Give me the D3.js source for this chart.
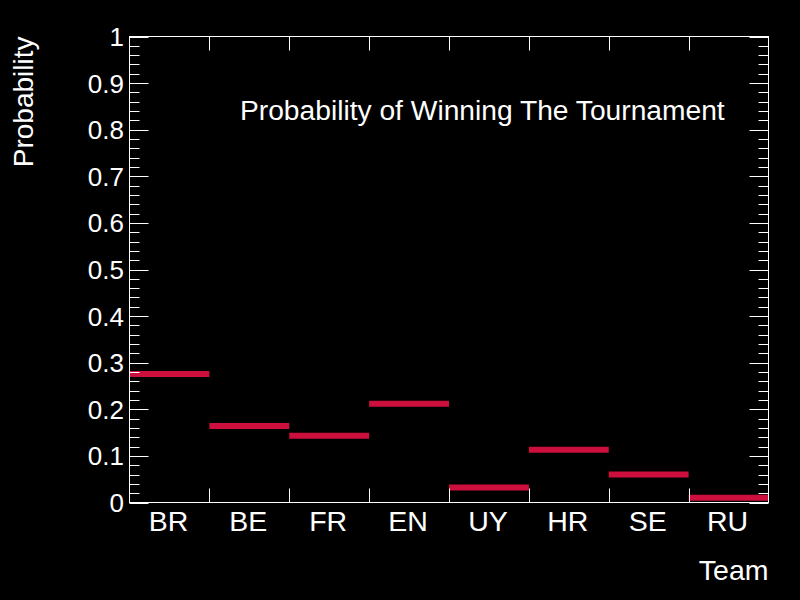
<!DOCTYPE html>
<html>
<head>
<meta charset="utf-8">
<script src="https://cdn.jsdelivr.net/npm/d3@7"></script>
<style>
  html, body { margin: 0; padding: 0; background: #000; }
  svg { display: block; font-family: "Liberation Sans", Arial, sans-serif; }
  text { fill: #fff; }
</style>
</head>
<body>
<svg id="chart"></svg>
<script>
var teams = ["BR", "BE", "FR", "EN", "UY", "HR", "SE", "RU"];
var probabilities = [0.276, 0.164, 0.143, 0.212, 0.032, 0.113, 0.060, 0.010];
var yTicks = [0, 0.1, 0.2, 0.3, 0.4, 0.5, 0.6, 0.7, 0.8, 0.9, 1];
var yMinorTicks = d3.range(0, 51).map(i => i / 50);

function getVariables() {
  var width = 800;
  var height = 600;
  var frame = { left: 129.5, right: 768.5, top: 36.5, bottom: 502.5 };

  var xScale =
    d3.scaleLinear()
      .domain([0, teams.length])
      .range([frame.left, frame.right]);

  var yScale =
    d3.scaleLinear()
      .domain([0, 1])
      .range([frame.bottom, frame.top]);

  return [width, height, frame, xScale, yScale];
}

function drawChart() {
  var vars = getVariables();
  var width = vars[0];
  var height = vars[1];
  var frame = vars[2];
  var xScale = vars[3];
  var yScale = vars[4];

  var svg =
    d3.select("#chart")
      .attr("width", width)
      .attr("height", height);

  svg.append("rect")
      .attr("width", width)
      .attr("height", height)
      .attr("fill", "#000");

  // bars drawn as thick horizontal steps (histogram style)
  svg.selectAll(".bin")
    .data(probabilities)
    .enter()
    .append("line")
      .classed("bin", true)
      .attr("x1", (d, i) => xScale(i))
      .attr("x2", (d, i) => xScale(i + 1))
      .attr("y1", d => yScale(d))
      .attr("y2", d => yScale(d))
      .attr("stroke", "#cc0f3c")
      .attr("stroke-width", 6);

  var ticks = svg.append("g")
      .attr("stroke", "#fff")
      .attr("stroke-width", 1);

  // y ticks on left and right, pointing inwards
  yMinorTicks.forEach(v => {
    var major = Math.round(v * 50) % 5 === 0;
    var len = major ? 19 : 10;
    var y = Math.round(yScale(v)) + 0.5;
    ticks.append("line")
        .attr("x1", frame.left).attr("x2", frame.left + len)
        .attr("y1", y).attr("y2", y);
    ticks.append("line")
        .attr("x1", frame.right).attr("x2", frame.right - len)
        .attr("y1", y).attr("y2", y);
  });

  // x ticks at bin edges, bottom and top
  d3.range(1, teams.length).forEach(i => {
    var x = Math.round(xScale(i)) + 0.5;
    ticks.append("line")
        .attr("x1", x).attr("x2", x)
        .attr("y1", frame.bottom).attr("y2", frame.bottom - 14);
    ticks.append("line")
        .attr("x1", x).attr("x2", x)
        .attr("y1", frame.top).attr("y2", frame.top + 14);
  });

  svg.append("rect")
      .attr("x", frame.left)
      .attr("y", frame.top)
      .attr("width", frame.right - frame.left)
      .attr("height", frame.bottom - frame.top)
      .attr("fill", "none")
      .attr("stroke", "#fff")
      .attr("stroke-width", 1);

  svg.selectAll(".ylabel")
    .data(yTicks)
    .enter()
    .append("text")
      .classed("ylabel", true)
      .attr("x", 124)
      .attr("y", d => yScale(d) + 9.5)
      .attr("text-anchor", "end")
      .style("font-size", "26px")
      .text(d => d3.format("~g")(d));

  svg.selectAll(".xlabel")
    .data(teams)
    .enter()
    .append("text")
      .classed("xlabel", true)
      .attr("x", (d, i) => xScale(i + 0.5) - 1)
      .attr("y", 531)
      .attr("text-anchor", "middle")
      .style("font-size", "28.5px")
      .text(d => d);

  svg.append("text")
      .attr("x", frame.right)
      .attr("y", 580)
      .attr("text-anchor", "end")
      .style("font-size", "28.5px")
      .text("Team");

  svg.append("text")
      .attr("transform", "translate(33," + frame.top + ") rotate(-90)")
      .attr("text-anchor", "end")
      .style("font-size", "28px")
      .text("Probability");

  svg.append("text")
      .attr("x", 240)
      .attr("y", 120)
      .attr("text-anchor", "start")
      .style("font-size", "28.2px")
      .text("Probability of Winning The Tournament");
}

drawChart();
</script>
</body>
</html>
